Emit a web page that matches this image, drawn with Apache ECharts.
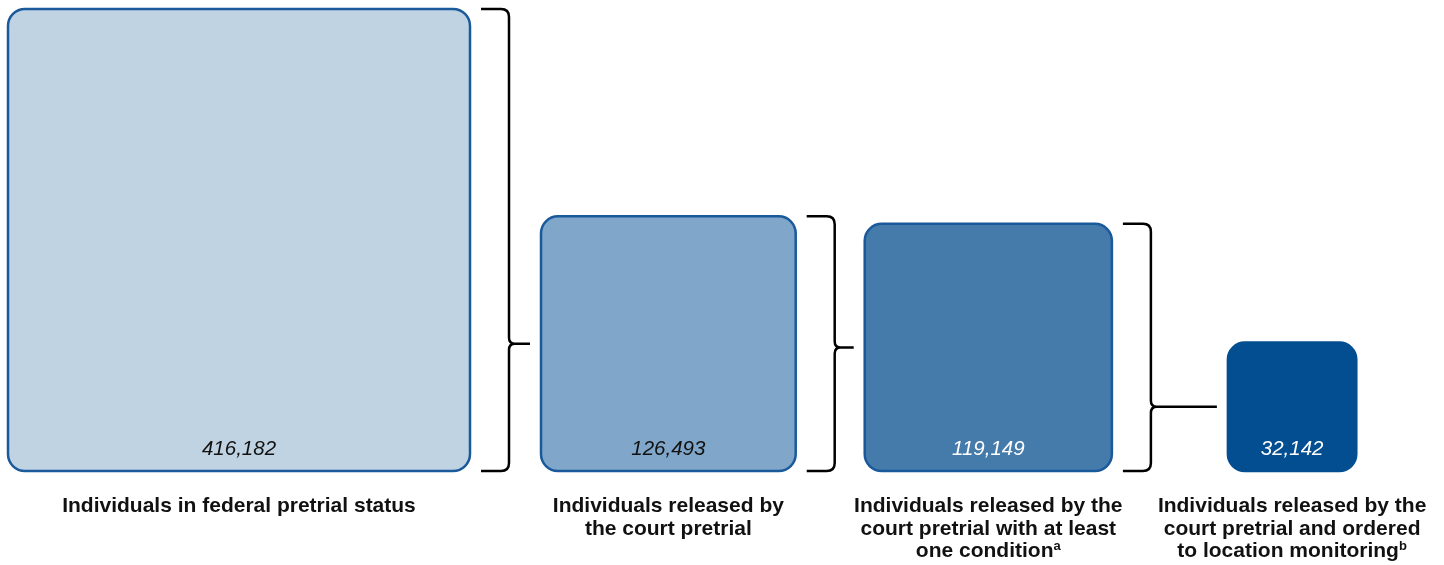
<!DOCTYPE html>
<html>
<head>
<meta charset="utf-8">
<script src="https://cdn.jsdelivr.net/npm/echarts@6/dist/echarts.min.js"></script>
<style>
html,body{margin:0;padding:0;background:#fff;}
#chart{width:1444px;height:565px;}
</style>
</head>
<body>
<div id="chart"></div>
<script>
// ---- data ----
const categories = [
  'Individuals in federal pretrial status',
  'Individuals released by\nthe court pretrial',
  'Individuals released by the\ncourt pretrial with at least\none condition',
  'Individuals released by the\ncourt pretrial and ordered\nto location monitoring'
];
const footnotes = ['', '', 'a', 'b'];
const values = [416182, 126493, 119149, 32142];

// ---- styles / layout ----
const fillColors = ['#c0d3e3', '#80a7c9', '#457bab', '#034e91'];
const valueTextColors = ['#111', '#111', '#fff', '#fff'];
const borderColor = '#1a5a9b';
const leftPad = 8;
const gaps = [71, 69, 116];

const chart = echarts.init(document.getElementById('chart'), null, {renderer: 'canvas'});

function renderItem(params, api) {
  const i = params.dataIndex;
  const cs = params.coordSys;
  const bottom = api.coord([0, 0])[1];
  const sideOf = j => api.size([0, Math.sqrt(values[j])])[1];
  const leftOf = j => {
    let x = cs.x + leftPad;
    for (let k = 0; k < j; k++) x += sideOf(k) + gaps[k];
    return x;
  };
  const side = sideOf(i);
  const x0 = leftOf(i);
  const top = bottom - side;
  const cx = x0 + side / 2;
  const children = [];
  children.push({
    type: 'rect',
    shape: {x: x0, y: top, width: side, height: side, r: 17},
    style: {fill: fillColors[i], stroke: i === 3 ? fillColors[i] : borderColor, lineWidth: 2.5}
  });
  children.push({
    type: 'text',
    style: {
      x: cx, y: bottom - 22,
      text: values[i].toLocaleString('en-US'),
      fill: valueTextColors[i],
      font: 'italic 20.5px "Liberation Sans", Arial, sans-serif',
      align: 'center', verticalAlign: 'middle'
    }
  });
  const lines = categories[i];
  children.push({
    type: 'text',
    style: {
      x: cx, y: bottom + 24,
      text: footnotes[i] ? lines + '{sup|' + footnotes[i] + '}' : lines,
      fill: '#111',
      font: 'bold 21px "Liberation Sans", Arial, sans-serif',
      lineHeight: 22.5,
      align: 'center', verticalAlign: 'top',
      rich: {
        sup: {fontSize: 13, fontWeight: 'bold', fontFamily: '"Liberation Sans", Arial, sans-serif', verticalAlign: 'top', lineHeight: 22.5, padding: [0, 0, 9, 0], fill: '#111'}
      }
    }
  });
  if (i < values.length - 1) {
    const R = x0 + side;
    const hx = R + 11;
    const vx = R + 39;
    const nSide = sideOf(i + 1);
    const tipY = bottom - nSide / 2;
    const tipEnd = leftOf(i + 1) - 11;
    const r = 8, q = 6;
    const path =
      'M' + hx + ' ' + top +
      ' L' + (vx - r) + ' ' + top +
      ' Q' + vx + ' ' + top + ' ' + vx + ' ' + (top + r) +
      ' L' + vx + ' ' + (tipY - q) +
      ' Q' + vx + ' ' + tipY + ' ' + (vx + q) + ' ' + tipY +
      ' L' + tipEnd + ' ' + tipY +
      ' M' + (vx + q) + ' ' + tipY +
      ' Q' + vx + ' ' + tipY + ' ' + vx + ' ' + (tipY + q) +
      ' L' + vx + ' ' + (bottom - r) +
      ' Q' + vx + ' ' + bottom + ' ' + (vx - r) + ' ' + bottom +
      ' L' + hx + ' ' + bottom;
    children.push({
      type: 'path',
      shape: {pathData: path},
      style: {fill: null, stroke: '#000', lineWidth: 2.5}
    });
  }
  return {type: 'group', children: children};
}

chart.setOption({
  animation: false,
  grid: {left: 0, right: 0, top: 9, bottom: 94},
  xAxis: {type: 'value', min: 0, max: 1, show: false},
  yAxis: {type: 'value', min: 0, max: Math.sqrt(Math.max(...values)), show: false},
  series: [{
    type: 'custom',
    renderItem: renderItem,
    clip: false,
    data: values.map((v, i) => [0, Math.sqrt(v), v])
  }]
});
</script>
</body>
</html>
